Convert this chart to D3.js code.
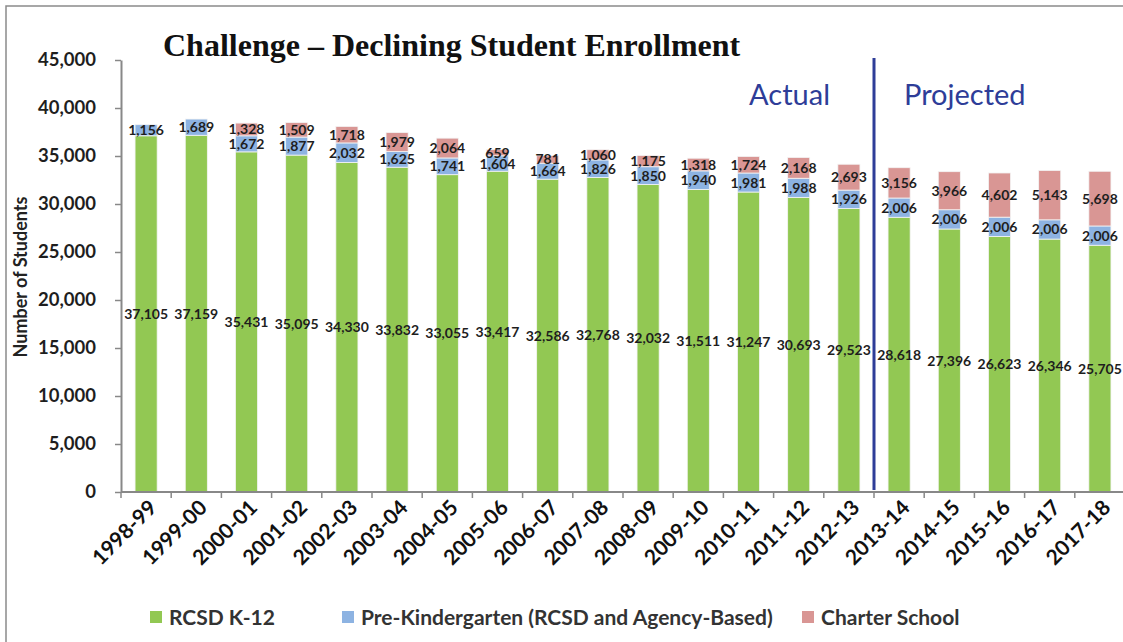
<!DOCTYPE html>
<html>
<head>
<meta charset="utf-8">
<script src="https://cdn.jsdelivr.net/npm/d3@7"></script>
<style>
  body { margin: 0; background: #fff; }
  svg { display: block; }
  .lbl { font-family: Lato, "Open Sans", sans-serif; font-weight: 700; font-size: 14px; fill: #1e1e1e; }
</style>
</head>
<body>
<svg id="chart" width="1123" height="642"></svg>
<script>
// categories & series
const years = ['1998-99','1999-00','2000-01','2001-02','2002-03','2003-04','2004-05','2005-06','2006-07','2007-08',
  '2008-09','2009-10','2010-11','2011-12','2012-13','2013-14','2014-15','2015-16','2016-17','2017-18'];
const k12 = [37105,37159,35431,35095,34330,33832,33055,33417,32586,32768,32032,31511,31247,30693,29523,28618,27396,26623,26346,25705];
const preK = [1156,1689,1672,1877,2032,1625,1741,1604,1664,1826,1850,1940,1981,1988,1926,2006,2006,2006,2006,2006];
const charter = [0,0,1328,1509,1718,1979,2064,659,781,1060,1175,1318,1724,2168,2693,3156,3966,4602,5143,5698];
const yTicks = [0,5000,10000,15000,20000,25000,30000,35000,40000,45000];
const seriesNames = ['RCSD K-12','Pre-Kindergarten (RCSD and Agency-Based)','Charter School'];
const colors = ['#92c853','#8db3e2','#d99694'];
const firstProjected = '2013-14';

const svg = d3.select('#chart');
const W = 1123, H = 642;
const m = { left: 121, top: 60, bottom: 492 };

// frame
svg.append('rect').attr('x', 6).attr('y', 6).attr('width', W + 10).attr('height', H + 10)
  .attr('fill', 'none').attr('stroke', '#8a8a8a').attr('stroke-width', 1.5);

const x = d3.scaleBand().domain(years).range([m.left, m.left + 20 * 50.2]).paddingInner(0.56).paddingOuter(0.28);
const y = d3.scaleLinear().domain([0, 45000]).range([m.bottom, m.top]);

const rows = years.map((yr, i) => ({ year: yr, k12: k12[i], preK: preK[i], charter: charter[i] }));
const keys = ['k12', 'preK', 'charter'];
const stacked = d3.stack().keys(keys)(rows);

// bars
const g = svg.append('g');
stacked.forEach((s, si) => {
  g.append('g').selectAll('rect').data(s.filter(d => d[1] > d[0])).join('rect')
    .attr('x', d => x(d.data.year))
    .attr('width', x.bandwidth())
    .attr('y', d => y(d[1]))
    .attr('height', d => y(d[0]) - y(d[1]))
    .attr('fill', colors[si])
    .attr('stroke', '#f4f4f4').attr('stroke-width', 0.8);
});

// data labels
const fmt = d3.format(',');
stacked.forEach((s, si) => {
  g.append('g').selectAll('text').data(s.filter(d => d[1] > d[0])).join('text')
    .attr('class', 'lbl')
    .attr('text-anchor', 'middle')
    .attr('x', d => x(d.data.year) + x.bandwidth() / 2)
    .attr('y', d => (y(d[0]) + y(d[1])) / 2)
    .attr('dy', '0.36em')
    .text(d => fmt(d[1] - d[0]));
});

// y axis
const yAxis = svg.append('g').attr('transform', `translate(${m.left},0)`)
  .call(d3.axisLeft(y).tickValues(yTicks).tickFormat(fmt).tickSize(6).tickSizeOuter(0));
yAxis.select('.domain').attr('stroke', '#888').attr('stroke-width', 2);
yAxis.selectAll('.tick line').attr('stroke', '#888').attr('stroke-width', 1.5);
yAxis.selectAll('.tick text').attr('x', -25)
  .style('font-family', 'Lato, sans-serif').style('font-weight', 700).style('font-size', '18.5px').attr('fill', '#1e1e1e');

// x axis
const xAxis = svg.append('g').attr('transform', `translate(0,${m.bottom})`);
xAxis.append('line').attr('x1', m.left).attr('x2', W + 5).attr('stroke', '#888').attr('stroke-width', 2);
xAxis.selectAll('line.tk').data(years).join('line').attr('class', 'tk')
  .attr('x1', d => x(d) - x.step() * x.paddingInner() / 2).attr('x2', d => x(d) - x.step() * x.paddingInner() / 2)
  .attr('y1', 0).attr('y2', 6).attr('stroke', '#888').attr('stroke-width', 1.5);
xAxis.selectAll('text').data(years).join('text')
  .attr('transform', d => `translate(${x(d) + x.bandwidth() / 2 + 12},${17}) rotate(-45)`)
  .attr('text-anchor', 'end')
  .style('font-family', 'Lato, sans-serif').style('font-weight', 700).style('font-size', '21px').attr('fill', '#111')
  .text(d => d);

// y title
svg.append('text').attr('transform', 'translate(27,277) rotate(-90)').attr('text-anchor', 'middle')
  .style('font-family', 'Lato, sans-serif').style('font-weight', 700).style('font-size', '18px').attr('fill', '#222')
  .text('Number of Students');

// actual / projected divider
const divX = x(firstProjected) - x.step() * x.paddingInner() / 2;
svg.append('line').attr('x1', divX).attr('x2', divX).attr('y1', 58).attr('y2', m.bottom - 2)
  .attr('stroke', '#2e3d98').attr('stroke-width', 3);
svg.append('text').attr('x', divX - 44).attr('y', 105).attr('text-anchor', 'end')
  .style('font-family', 'Lato, sans-serif').style('font-size', '29px').attr('fill', '#2e3d98').text('Actual');
svg.append('text').attr('x', divX + 30).attr('y', 105)
  .style('font-family', 'Lato, sans-serif').style('font-size', '29px').attr('fill', '#2e3d98').text('Projected');

// title
svg.append('text').attr('x', 163).attr('y', 56)
  .style('font-family', '"Liberation Serif", "Times New Roman", serif').style('font-weight', 700).style('font-size', '32px')
  .attr('fill', '#111').text('Challenge \u2013 Declining Student Enrollment');

// legend
const legendX = [150, 342, 802];
const lg = svg.append('g').selectAll('g').data(seriesNames).join('g')
  .attr('transform', (d, i) => `translate(${legendX[i]},617)`);
lg.append('rect').attr('x', 0).attr('y', -6).attr('width', 12).attr('height', 12).attr('fill', (d, i) => colors[i]);
lg.append('text').attr('x', 19).attr('dy', '0.36em')
  .style('font-family', 'Lato, sans-serif').style('font-weight', 700).style('font-size', '21px').attr('fill', '#333')
  .text(d => d);
</script>
</body>
</html>
